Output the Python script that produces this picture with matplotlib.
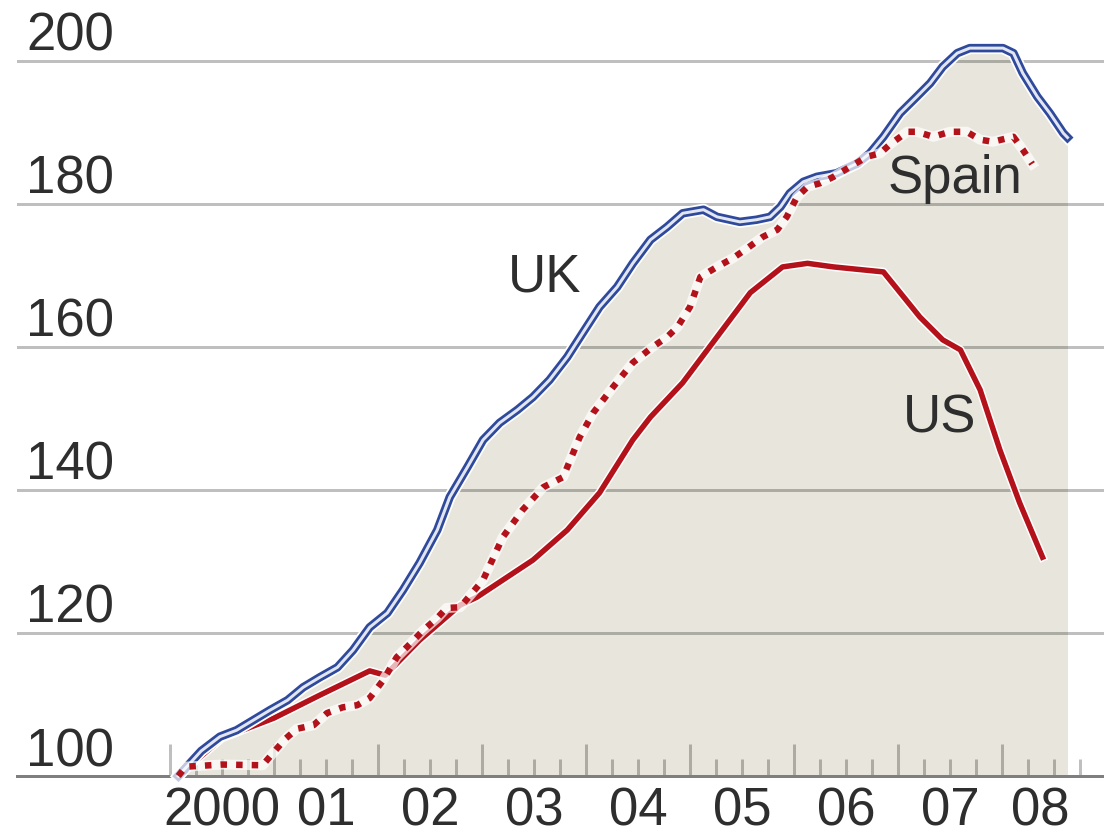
import matplotlib.pyplot as plt
import matplotlib.transforms as mtransforms
import numpy as np

plt.rcParams['font.family'] = ['Liberation Sans', 'DejaVu Sans']

# house price index, 2000 = 100
uk_t = [2000.08, 2000.3, 2000.48, 2000.64, 2000.8, 2000.96, 2001.13, 2001.28, 2001.44,
        2001.61, 2001.76, 2001.92, 2002.09, 2002.24, 2002.4, 2002.57, 2002.69, 2002.86,
        2003.01, 2003.17, 2003.34, 2003.49, 2003.65, 2003.82, 2003.97, 2004.13, 2004.3,
        2004.45, 2004.62, 2004.78, 2004.93, 2005.13, 2005.26, 2005.48, 2005.64, 2005.77,
        2005.87, 2005.96, 2006.09, 2006.22, 2006.41, 2006.61, 2006.73, 2006.86, 2007.02,
        2007.18, 2007.31, 2007.43, 2007.57, 2007.69, 2008.01, 2008.11, 2008.2, 2008.34,
        2008.46, 2008.59, 2008.63]
uk_v = [100.0, 103.5, 105.5, 106.4, 107.8, 109.2, 110.6, 112.4, 113.8,
        115.2, 117.6, 120.8, 122.8, 126.0, 129.8, 134.4, 139.0, 143.2,
        147.0, 149.4, 151.2, 153.0, 155.4, 158.6, 162.0, 165.6, 168.4,
        171.7, 175.0, 176.8, 178.7, 179.2, 178.2, 177.5, 177.8, 178.2,
        179.6, 181.5, 183.1, 183.8, 184.3, 185.7, 187.1, 189.4, 192.7,
        195.0, 196.9, 199.2, 201.1, 201.8, 201.8, 201.1, 198.3, 195.0,
        192.7, 189.9, 189.3]

spain_t = [2000.08, 2000.15, 2000.5, 2000.89, 2000.99, 2001.11, 2001.22, 2001.38, 2001.51,
           2001.66, 2001.8, 2001.92, 2002.05, 2002.18, 2002.31, 2002.43, 2002.57, 2002.66,
           2002.79, 2003.01, 2003.2, 2003.39, 2003.59, 2003.78, 2003.94, 2004.07, 2004.26,
           2004.45, 2004.64, 2004.78, 2004.88, 2005.0, 2005.1, 2005.26, 2005.41, 2005.55,
           2005.7, 2005.84, 2005.93, 2006.03, 2006.13, 2006.25, 2006.38, 2006.54, 2006.7,
           2006.83, 2006.92, 2007.09, 2007.18, 2007.34, 2007.5, 2007.66, 2007.79, 2007.91,
           2008.11, 2008.2, 2008.29]
spain_v = [100.0, 101.3, 101.6, 101.5, 103.2, 105.2, 106.6, 107.1, 108.8,
           109.6, 109.9, 110.9, 113.4, 116.6, 118.5, 120.3, 122.1, 123.5,
           123.6, 127.4, 133.4, 137.2, 140.4, 141.8, 147.4, 150.8, 154.4,
           157.8, 160.0, 161.4, 162.8, 165.6, 169.8, 171.2, 172.4, 173.8,
           175.4, 176.4, 178.2, 181.0, 182.4, 182.9, 183.8, 185.2, 186.6,
           187.1, 188.3, 190.1, 190.1, 189.4, 190.1, 190.1, 189.0, 188.7,
           189.4, 187.6, 185.6]

us_t = [2000.08, 2000.5, 2001.0, 2001.44, 2001.92, 2002.07, 2002.4, 2002.79, 2002.95,
        2003.49, 2003.82, 2004.13, 2004.45, 2004.62, 2004.93, 2005.26, 2005.58, 2005.89,
        2006.13, 2006.38, 2006.86, 2007.21, 2007.43, 2007.6, 2007.79, 2007.98, 2008.17,
        2008.39]
us_v = [100.0, 105.3, 108.1, 111.3, 114.7, 114.1, 119.0, 123.9, 125.0,
        130.2, 134.4, 139.6, 147.0, 150.2, 155.0, 161.4, 167.6, 171.2,
        171.7, 171.2, 170.5, 164.2, 161.0, 159.6, 154.0, 145.6, 138.2,
        130.6]

years = list(range(2000, 2009))
year_labels = ['2000', '01', '02', '03', '04', '05', '06', '07', '08']
y_ticks = [100, 120, 140, 160, 180, 200]

PX = 0.72  # points per pixel at 100 dpi
FS = 38
red = '#b3121b'
blue = '#2f4a9c'
text_col = '#2e2e2e'

fig = plt.figure(figsize=(11.04, 8.35), dpi=100)
ax = fig.add_axes([17 / 1104, 59 / 835, 1087 / 1104, 776 / 835])
ax.set_xlim(1998.529, 2008.981)
ax.set_ylim(100, 208.53)

ax.fill_between(uk_t, uk_v, 100, color='#e8e6dc', lw=0, zorder=1)
for v in y_ticks[1:]:
    ax.axhline(v, color='black', alpha=0.25, lw=3 * PX, zorder=1.5)

for s in ['left', 'right', 'top']:
    ax.spines[s].set_visible(False)
ax.spines['bottom'].set_color('#7f7f7f')
ax.spines['bottom'].set_linewidth(3 * PX)

ax.set_xticks(years)
ax.set_xticks(np.arange(2000, 2008.8, 0.25), minor=True)
ax.tick_params(axis='x', which='major', direction='in', length=32 * PX, width=3 * PX,
               color=(0, 0, 0, 0.25), labelbottom=False)
ax.tick_params(axis='x', which='minor', direction='in', length=17 * PX, width=3 * PX,
               color=(0, 0, 0, 0.25))
ax.set_yticks([])

# lines
ax.plot(us_t, us_v, color='white', lw=8.5 * PX, zorder=3, clip_on=False)
ax.plot(us_t, us_v, color=red, lw=5.5 * PX, zorder=3.1, clip_on=False)

ax.plot(uk_t, uk_v, color='white', lw=12 * PX, zorder=4, clip_on=False)
ax.plot(uk_t, uk_v, color=blue, lw=8.5 * PX, zorder=4.1, clip_on=False)
ax.plot(uk_t, uk_v, color='#e2e6f1', lw=3 * PX, zorder=4.2, clip_on=False)

ax.plot(spain_t, spain_v, color='white', lw=10 * PX, alpha=0.7, zorder=5, clip_on=False)
ax.plot(spain_t, spain_v, color=red, lw=6.5 * PX, ls=(0, (1, 1.4)),
        dash_capstyle='butt', zorder=5.1, clip_on=False)

# y labels sit above their gridlines
ytrans = mtransforms.blended_transform_factory(ax.transAxes, ax.transData) + \
    mtransforms.ScaledTranslation(0, 10 / 100, fig.dpi_scale_trans)
for v in y_ticks:
    ax.text(9 / 1087, v, str(v), transform=ytrans, ha='left', va='baseline',
            fontsize=FS, color=text_col)

# year labels centred on mid-year
xtrans = mtransforms.blended_transform_factory(ax.transData, ax.transAxes) + \
    mtransforms.ScaledTranslation(0, -10 / 100, fig.dpi_scale_trans)
for yr, lab in zip(years, year_labels):
    xpos = yr + 0.5 if yr < 2008 else yr + 0.37
    ax.text(xpos, 0, lab, transform=xtrans, ha='center', va='top',
            fontsize=FS, color=text_col)

ax.text(2003.60, 167.7, 'UK', ha='center', va='baseline', fontsize=FS, color=text_col, zorder=6)
ax.text(2007.55, 181.5, 'Spain', ha='center', va='baseline', fontsize=FS, color=text_col, zorder=6)
ax.text(2007.40, 148.0, 'US', ha='center', va='baseline', fontsize=FS, color=text_col, zorder=6)

fig.savefig('out.png', dpi=100)
